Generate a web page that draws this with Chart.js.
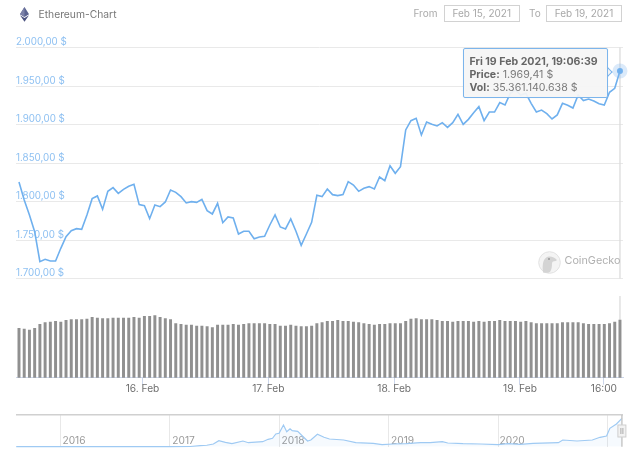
<!DOCTYPE html>
<html><head><meta charset="utf-8">
<script src="https://cdn.jsdelivr.net/npm/chart.js@4"></script>
<style>
html,body{margin:0;padding:0;background:#fff;width:640px;height:465px;overflow:hidden;font-family:Inter,"Liberation Sans",sans-serif}
canvas{position:absolute;left:0}
.t{position:absolute;white-space:nowrap;line-height:1}
.box{position:absolute;border:1px solid #d2d2d2;box-sizing:border-box;color:#a8a8a8;font-size:10px;text-align:center;line-height:15px}
#tip{position:absolute;left:463px;top:48px;width:145px;height:50px;box-sizing:border-box;background:rgba(245,245,245,.93);border:1px solid #7cb5ec;border-radius:2px;color:#7a7a7a;font-size:10.6px;line-height:13px;padding:5.5px 0 0 5.5px;white-space:nowrap;box-shadow:0 0 1px rgba(0,0,0,.15)}
#tip b{color:#666;font-weight:700}
#arrow{position:absolute;left:603px;top:68px;width:8px;height:8px;background:#f5f5f5;border-top:1px solid #7cb5ec;border-right:1px solid #7cb5ec;transform:rotate(45deg);box-sizing:border-box}
</style></head><body>
<canvas id="main" width="640" height="465" style="top:0;width:640px;height:465px"></canvas>
<canvas id="nav" width="640" height="55" style="top:405px;width:640px;height:55px"></canvas>

<svg style="position:absolute;left:19px;top:7px" width="11" height="15" viewBox="0 0 11 15"><path d="M5.5 0L10 7.3 5.5 10 1 7.3z" fill="#5b6390"/><path d="M5.5 0L1 7.3 5.5 10z" fill="#7b81a8"/><path d="M5.5 11L10 8.3 5.5 14.8 1 8.3z" fill="#4c5380"/></svg>
<div class="t" id="title" style="left:38.5px;top:9px;font-size:10.3px;color:#777">Ethereum-Chart</div>
<div class="t" style="left:413.5px;top:8px;font-size:10px;color:#aaa">From</div>
<div class="box" style="left:444px;top:4.5px;width:75.5px;height:17.5px">Feb 15, 2021</div>
<div class="t" style="left:529px;top:8px;font-size:10px;color:#aaa">To</div>
<div class="box" style="left:546px;top:4.5px;width:76px;height:17.5px">Feb 19, 2021</div>

<svg style="position:absolute;left:538px;top:251px" width="23" height="23" viewBox="0 0 23 23"><circle cx="11.5" cy="11.5" r="10.8" fill="#f4f4f4" stroke="#e2e2e2" stroke-width="1"/><path d="M5 21C4 14 5 6 11 5.5c3-.2 5 1 7 2.500 1 .8 1 1.800-.5 2-2 .3-3.500.5-3.500 2.500 0 3.500-.5 6.500-2 8.500-2 1-5 1-7 .5z" fill="#d4d4d4"/><circle cx="11" cy="8" r="1" fill="#9a9a9a"/></svg>
<div class="t" style="left:564.5px;top:256px;font-size:10.8px;color:#b0b0b0">CoinGecko</div>

<div id="arrow"></div>
<div id="tip"><b>Fri 19 Feb 2021, 19:06:39</b><br><b>Price:</b> 1.969,41 $<br><b>Vol:</b> 35.361.140.638 $</div>

<script>
const priceValues = [1825.3,1802,1782.5,1760.8,1721.9,1724.9,1722.7,1722.7,1739.2,1754.3,1762.1,1764.7,1763.9,1782.5,1803.7,1807.2,1789.8,1813.2,1818,1810.6,1815.8,1819.7,1822.3,1795.9,1794.6,1777.7,1795.5,1793.3,1799.4,1815,1811.9,1806.3,1798.1,1799.8,1798.9,1802.8,1788.1,1783.8,1797.6,1772.5,1779.9,1778.6,1757.8,1761.3,1761.3,1751.7,1753.9,1754.8,1769.5,1782.5,1766.9,1764.3,1777.3,1761.3,1743.1,1757.8,1772.9,1808,
1806.3,1816.2,1808.9,1807.6,1808.9,1825.8,1821.4,1813.2,1817.1,1819.3,1816.2,1831.8,1827.1,1846.5,1836.6,1845.2,
1892.9,1905,1908,1886.4,1903.3,1900.2,1898.1,1902.4,1896.3,1902.4,1913.2,1900.2,1906.7,1915.4,1923.2,1905,1916.2,1916.2,1928.4,1925.3,1940.5,1944.8,1938.3,1940.5,1927.5,1916.2,1918.8,1914.1,1907.2,1912.4,1927.5,1924.9,1921.4,1938.3,1931,1933.1,1930.5,1927,1925.3,1941.8,1947,1969.41];
const volumeBillions = [30.25,29.84,29.23,30.25,32.7,33.73,34.13,34.54,34.13,35.16,35.57,35.57,35.57,35.97,37,36.59,36.18,36.18,36.59,36.59,36.59,36.59,37,36.59,37.61,37.61,38.02,37,36.18,35.57,33.11,32.7,32.3,32.3,31.68,31.68,31.27,30.66,32.3,32.3,32.3,32.7,32.3,32.7,33.11,33.11,33.11,33.11,32.7,32.7,31.68,31.68,32.3,31.68,31.27,31.27,31.68,33.11,
33.73,34.54,34.54,35.16,34.54,34.54,34.13,33.73,33.11,32.7,32.3,32.7,32.7,33.11,33.11,33.11,34.54,35.97,36.18,35.57,35.57,35.57,35.16,34.54,34.54,34.13,34.54,34.54,34.54,34.13,34.54,34.13,34.54,34.54,35.16,34.54,34.54,34.54,34.13,34.54,33.73,33.11,33.11,33.11,33.11,33.11,33.73,33.73,33.73,33.73,33.11,32.7,32.7,32.7,32.7,33.11,34.13,35.36];
const firstHour = 0.44, hourStep = 0.9968;
const hours = priceValues.map((_, i) => firstHour + i * hourStep);
const xTicks = [24, 48, 72, 96, 112];
const xTickLabels = ["16. Feb", "17. Feb", "18. Feb", "19. Feb", "16:00"];
const priceTicks = [1700, 1750, 1800, 1850, 1900, 1950, 2000];
const navYears = [2015.6,2016,2016.55,2017,2017.19,2017.28,2017.34,2017.4,2017.45,2017.51,2017.57,2017.67,2017.72,2017.85,2017.9,2017.94,2017.97,2018,2018.04,2018.07,2018.1,2018.12,2018.17,2018.22,2018.26,2018.29,2018.35,2018.41,2018.46,2018.59,2018.7,2018.86,2018.94,2019.04,2019.16,2019.29,2019.38,2019.49,2019.54,2019.68,2019.84,2020,2020.09,2020.2,2020.32,2020.55,2020.59,2020.72,2020.86,2020.93,2020.99,2021.02,2021.08,2021.13];
const navValues = [1,8,10,10,14,69,100,185,412,302,206,391,274,343,508,576,871,919,1489,1029,1235,1098,1056,686,391,460,851,645,528,460,274,233,137,185,206,274,274,343,254,206,185,137,206,165,233,274,460,391,460,645,734,1262,1557,1948];
const navTicks = [2016,2017,2018,2019,2020,2021];

const fmt = v => v.toFixed(2).replace('.', ',').replace(/\B(?=(\d{3})(?!\d))/g, '.') + ' $';
const FONT = 'Inter, "Liberation Sans", sans-serif';
const LINE = '#6fb0ee';
const last = priceValues.length - 1;

const crosshair = {
  id: 'crosshair',
  beforeDatasetsDraw(c) {
    const x = c.scales.x.getPixelForValue(hours[last]);
    const ctx = c.ctx;
    ctx.save();
    ctx.strokeStyle = '#dcdcdc';
    ctx.lineWidth = 1.3;
    ctx.beginPath();
    ctx.moveTo(x, c.scales.y.getPixelForValue(2000));
    ctx.lineTo(x, c.scales.y.getPixelForValue(1700));
    ctx.moveTo(x, c.scales.yVol.getPixelForValue(50));
    ctx.lineTo(x, c.scales.yVol.getPixelForValue(0));
    ctx.stroke();
    ctx.restore();
  }
};

new Chart(document.getElementById('main'), {
  type: 'bar',
  plugins: [crosshair],
  data: { datasets: [
    { type: 'scatter', order: 0, xAxisID: 'x', yAxisID: 'y', data: [{x: hours[last], y: priceValues[last]}],
      pointRadius: 3, pointBackgroundColor: LINE, pointBorderColor: 'rgba(124,181,236,.28)', pointBorderWidth: 9, showLine: false, clip: false },
    { type: 'line', order: 1, xAxisID: 'x', yAxisID: 'y', data: priceValues.map((v, i) => ({x: hours[i], y: v})),
      borderColor: LINE, borderWidth: 1.6, pointRadius: 0, tension: 0, fill: false, clip: false },
    { type: 'bar', order: 2, xAxisID: 'x', yAxisID: 'yVol', data: volumeBillions.map((v, i) => ({x: hours[i], y: v})),
      backgroundColor: '#909090', barThickness: 2.3, borderWidth: 0 }
  ]},
  options: {
    responsive: false, animation: false, events: [],
    layout: { padding: { left: 16, right: 17, top: 47.5, bottom: 57.3 } },
    plugins: { legend: { display: false }, tooltip: { enabled: false } },
    scales: {
      x: { type: 'linear', offset: false, min: -0.13, max: 115.65,
        afterBuildTicks: s => { s.ticks = xTicks.map(v => ({ value: v })); },
        afterFit: s => { s.height = 30; },
        ticks: { autoSkip: false, maxRotation: 0, padding: -1.5, color: '#6e6e6e', font: { family: FONT, size: 10.2 },
          callback: v => xTickLabels[xTicks.indexOf(v)] },
        grid: { offset: false, drawOnChartArea: false, tickLength: 7, color: '#ccd6eb', tickColor: '#ccd6eb' },
        border: { color: '#ccd6eb' } },
      yVol: { position: 'left', stack: 'p', stackWeight: 99.2, min: 0, max: 60.8, afterFit: s => { s.width = 0; },
        ticks: { display: false }, grid: { display: false }, border: { display: false } },
      y: { position: 'left', stack: 'p', stackWeight: 231, min: 1700, max: 2000, afterFit: s => { s.width = 0; },
        afterBuildTicks: s => { s.ticks = priceTicks.map(v => ({ value: v })); },
        ticks: { mirror: true, padding: 0, labelOffset: -5, color: '#8fc1f2', font: { family: FONT, size: 9.8 }, callback: fmt },
        grid: { color: '#e9e9e9', lineWidth: 1, tickLength: 0, drawTicks: false }, border: { display: false } }
    }
  }
});

const navHandle = {
  id: 'navHandle',
  afterDatasetsDraw(c) {
    const x = c.scales.xn.getPixelForValue(2021.13), ctx = c.ctx;
    ctx.save();
    ctx.strokeStyle = '#c4c4c4'; ctx.lineWidth = 1.4;
    ctx.beginPath(); ctx.moveTo(x, c.chartArea.top); ctx.lineTo(x, c.chartArea.bottom); ctx.stroke();
    ctx.fillStyle = '#f2f2f2'; ctx.strokeStyle = '#cfcfcf'; ctx.lineWidth = 1;
    ctx.fillRect(x - 4, 20, 8, 12); ctx.strokeRect(x - 4, 20, 8, 12);
    ctx.beginPath(); ctx.moveTo(x - 1, 23); ctx.lineTo(x - 1, 29); ctx.moveTo(x + 1, 23); ctx.lineTo(x + 1, 29); ctx.strokeStyle = '#aaa'; ctx.stroke();
    ctx.restore();
  }
};
new Chart(document.getElementById('nav'), {
  type: 'line',
  plugins: [navHandle],
  data: { datasets: [{ data: navValues.map((v, i) => ({x: navYears[i], y: v})), xAxisID: 'xn', yAxisID: 'yn',
    borderColor: '#9fcaf3', borderWidth: 1.2, pointRadius: 0, tension: 0, fill: 'origin', backgroundColor: 'rgba(124,181,236,.07)', clip: false }] },
  options: {
    responsive: false, animation: false, events: [],
    layout: { padding: { left: 16, right: 17, top: 10, bottom: 1.3 } },
    plugins: { legend: { display: false }, tooltip: { enabled: false } },
    scales: {
      xn: { type: 'linear', min: 2015.598, max: 2021.14,
        afterBuildTicks: s => { s.ticks = navTicks.map(v => ({ value: v })); },
        afterFit: s => { s.height = 12; },
        ticks: { mirror: true, autoSkip: false, maxRotation: 0, padding: -0.5, labelOffset: 14, color: '#9a9a9a', font: { family: FONT, size: 10.2 },
          callback: v => v === 2021 ? '' : String(v) },
        grid: { color: '#e8e8e8', drawTicks: false, tickLength: 0 }, border: { display: false } },
      yn: { min: 0, max: 2175, display: true, afterFit: s => { s.width = 0; },
        ticks: { display: false, stepSize: 2175 }, grid: { color: '#d0d0d0', lineWidth: c => c.tick.value === 2175 ? 1.4 : 0, drawTicks: false, tickLength: 0 }, border: { display: false } }
    }
  }
});
</script>
</body></html>
